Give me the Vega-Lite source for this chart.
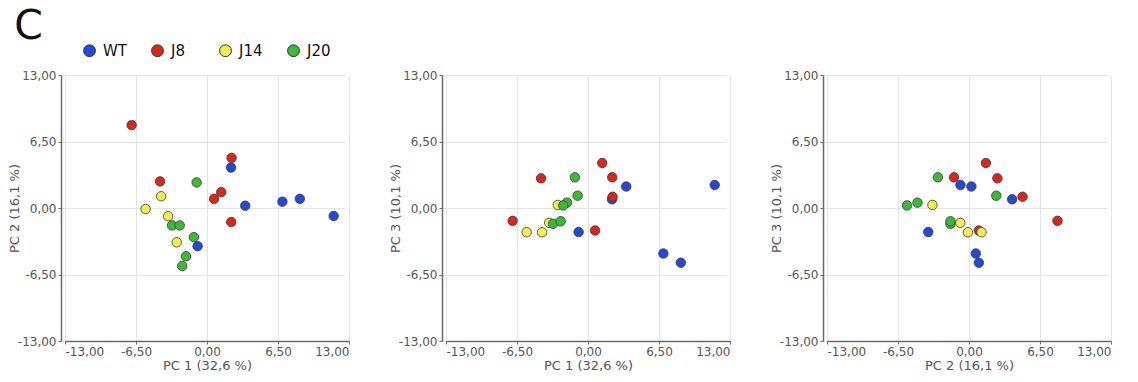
{
  "$schema": "https://vega.github.io/schema/vega-lite/v6.json",
  "padding": {"left": 8, "top": 6, "right": 5, "bottom": 5},
  "background": "white",
  "title": {"text": "C", "anchor": "start", "fontSize": 41, "font": "DejaVu Sans", "fontWeight": "normal", "color": "#111", "offset": -5, "dx": 6, "frame": "bounds"},
  "data": {"values": [
    {"sample": "WT1", "group": "WT", "pc1": 2.2, "pc2": 3.95, "pc3": 0.85},
    {"sample": "WT2", "group": "WT", "pc1": 3.5, "pc2": 0.22, "pc3": 2.1},
    {"sample": "WT3", "group": "WT", "pc1": 6.9, "pc2": 0.62, "pc3": -4.45},
    {"sample": "WT4", "group": "WT", "pc1": 8.5, "pc2": 0.9, "pc3": -5.35},
    {"sample": "WT5", "group": "WT", "pc1": 11.6, "pc2": -0.78, "pc3": 2.25},
    {"sample": "WT6", "group": "WT", "pc1": -0.86, "pc2": -3.73, "pc3": -2.35},
    {"sample": "J8_1", "group": "J8", "pc1": -6.9, "pc2": 8.1, "pc3": -1.25},
    {"sample": "J8_2", "group": "J8", "pc1": 2.25, "pc2": 4.9, "pc3": 1.1},
    {"sample": "J8_3", "group": "J8", "pc1": -4.3, "pc2": 2.6, "pc3": 2.9},
    {"sample": "J8_4", "group": "J8", "pc1": 1.3, "pc2": 1.55, "pc3": 4.4},
    {"sample": "J8_5", "group": "J8", "pc1": 0.65, "pc2": 0.9, "pc3": -2.2},
    {"sample": "J8_6", "group": "J8", "pc1": 2.22, "pc2": -1.37, "pc3": 3.0},
    {"sample": "J14_1", "group": "J14", "pc1": -5.62, "pc2": -0.1, "pc3": -2.37},
    {"sample": "J14_2", "group": "J14", "pc1": -4.2, "pc2": 1.15, "pc3": -2.37},
    {"sample": "J14_3", "group": "J14", "pc1": -3.56, "pc2": -0.8, "pc3": -1.45},
    {"sample": "J14_4", "group": "J14", "pc1": -2.77, "pc2": -3.35, "pc3": 0.3},
    {"sample": "J20_1", "group": "J20", "pc1": -0.95, "pc2": 2.5, "pc3": 1.2},
    {"sample": "J20_2", "group": "J20", "pc1": -3.2, "pc2": -1.7, "pc3": -1.55},
    {"sample": "J20_3", "group": "J20", "pc1": -2.5, "pc2": -1.7, "pc3": -1.3},
    {"sample": "J20_4", "group": "J20", "pc1": -1.2, "pc2": -2.85, "pc3": 3.0},
    {"sample": "J20_5", "group": "J20", "pc1": -1.92, "pc2": -4.72, "pc3": 0.52},
    {"sample": "J20_6", "group": "J20", "pc1": -2.27, "pc2": -5.67, "pc3": 0.25}
  ]},
  "spacing": 97,
  "bounds": "flush",
  "config": {
    "view": {"stroke": null},
    "axis": {
      "labelFont": "DejaVu Sans", "labelFontSize": 12, "labelColor": "#555",
      "titleFont": "DejaVu Sans", "titleFontSize": 13, "titleColor": "#555", "titleFontWeight": "normal",
      "gridColor": "#e3e3e3", "gridWidth": 1,
      "domainColor": "#6a6a6a", "domainWidth": 1.5,
      "tickColor": "#6a6a6a", "tickSize": 3,
      "labelExpr": "replace(replace(format(datum.value, '.2f'), '.', ','), '−', '-')"
    },
    "axisX": {"labelPadding": 2, "titlePadding": 2},
    "axisY": {"offset": 4, "labelPadding": 2, "titlePadding": -4},
    "legend": {
      "orient": "none", "legendX": 17, "legendY": -32, "direction": "horizontal",
      "title": null, "labelFont": "DejaVu Sans", "labelFontSize": 15, "labelColor": "#111",
      "symbolType": "circle", "symbolSize": 140, "symbolStrokeColor": "#333", "symbolStrokeWidth": 1,
      "gridAlign": "all", "columnPadding": 22, "labelOffset": 6, "padding": 0
    }
  },
  "resolve": {"scale": {"color": "shared"}},
  "hconcat": [
    {
      "width": 284, "height": 266,
      "mark": {"type": "point", "filled": true, "size": 90, "stroke": "#3a3a3a", "strokeWidth": 1, "strokeOpacity": 0.8, "opacity": 1},
      "encoding": {
        "x": {"field": "pc1", "type": "quantitative", "title": "PC 1 (32,6 %)", "scale": {"domain": [-13, 13], "nice": false, "zero": false}, "axis": {"values": [-13, -6.5, 0, 6.5, 13]}},
        "y": {"field": "pc2", "type": "quantitative", "title": "PC 2 (16,1 %)", "scale": {"domain": [-13, 13], "nice": false, "zero": false}, "axis": {"values": [-13, -6.5, 0, 6.5, 13]}},
        "color": {"field": "group", "type": "nominal", "scale": {"domain": ["WT", "J8", "J14", "J20"], "range": ["#2449d8", "#d8281b", "#f2ee50", "#3db93a"]}}
      }
    },
    {
      "width": 284, "height": 266,
      "mark": {"type": "point", "filled": true, "size": 90, "stroke": "#3a3a3a", "strokeWidth": 1, "strokeOpacity": 0.8, "opacity": 1},
      "encoding": {
        "x": {"field": "pc1", "type": "quantitative", "title": "PC 1 (32,6 %)", "scale": {"domain": [-13, 13], "nice": false, "zero": false}, "axis": {"values": [-13, -6.5, 0, 6.5, 13]}},
        "y": {"field": "pc3", "type": "quantitative", "title": "PC 3 (10,1 %)", "scale": {"domain": [-13, 13], "nice": false, "zero": false}, "axis": {"values": [-13, -6.5, 0, 6.5, 13]}},
        "color": {"field": "group", "type": "nominal", "scale": {"domain": ["WT", "J8", "J14", "J20"], "range": ["#2449d8", "#d8281b", "#f2ee50", "#3db93a"]}}
      }
    },
    {
      "width": 284, "height": 266,
      "mark": {"type": "point", "filled": true, "size": 90, "stroke": "#3a3a3a", "strokeWidth": 1, "strokeOpacity": 0.8, "opacity": 1},
      "encoding": {
        "x": {"field": "pc2", "type": "quantitative", "title": "PC 2 (16,1 %)", "scale": {"domain": [-13, 13], "nice": false, "zero": false}, "axis": {"values": [-13, -6.5, 0, 6.5, 13]}},
        "y": {"field": "pc3", "type": "quantitative", "title": "PC 3 (10,1 %)", "scale": {"domain": [-13, 13], "nice": false, "zero": false}, "axis": {"values": [-13, -6.5, 0, 6.5, 13]}},
        "color": {"field": "group", "type": "nominal", "scale": {"domain": ["WT", "J8", "J14", "J20"], "range": ["#2449d8", "#d8281b", "#f2ee50", "#3db93a"]}}
      }
    }
  ]
}
